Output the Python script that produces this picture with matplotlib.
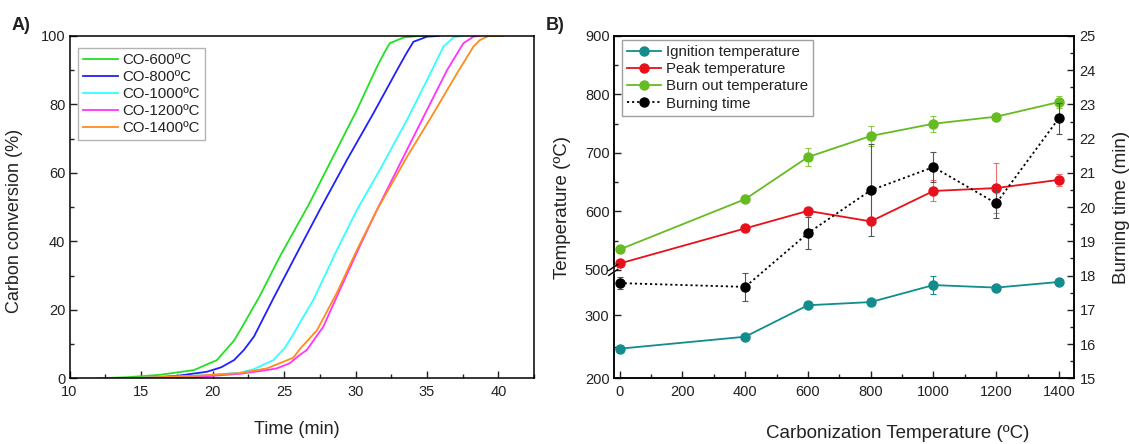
import numpy as np
import matplotlib.pyplot as plt
from matplotlib.ticker import MultipleLocator

plt.rcParams['font.family'] = ['Liberation Sans', 'DejaVu Sans']
plt.rcParams['text.color'] = '#222222'
plt.rcParams['axes.labelcolor'] = '#222222'
plt.rcParams['xtick.color'] = '#222222'
plt.rcParams['ytick.color'] = '#222222'

## Panel A: carbon conversion curves ##

time_600 = [12.0, 14.0, 16.3, 18.7, 20.3, 21.5, 22.0, 23.3, 24.7, 26.7, 28.2, 30.1, 31.5, 32.0, 32.4, 33.4, 34.5, 35.0]
conv_600 = [0, 0.3, 1.0, 2.4, 5.3, 11.0, 14.5, 24.0, 35.5, 50.5, 62.8, 78.4, 91.0, 95.0, 97.9, 99.6, 100, 100]

time_800 = [13.0, 15.2, 17.5, 19.6, 20.6, 21.5, 22.2, 22.9, 24.25, 25.9, 27.5, 29.4, 31.25, 32.9, 33.5, 34.05, 35.0, 35.8]
conv_800 = [0, 0.1, 0.7, 1.9, 3.2, 5.3, 8.3, 12.2, 23.3, 36.5, 49.2, 63.8, 77.4, 90.0, 94.5, 98.3, 99.8, 100]

time_1000 = [14.0, 17.5, 19.8, 21.9, 22.9, 24.25, 25.0, 25.65, 26.1, 27.05, 28.7, 30.1, 31.7, 33.6, 35.0, 36.15, 36.85, 37.5]
conv_1000 = [0, 0.5, 1.0, 1.6, 2.7, 5.3, 8.6, 12.8, 16.2, 22.9, 37.5, 49.2, 60.9, 75.5, 87.1, 96.9, 99.6, 100]

time_1200 = [15.0, 17.5, 18.7, 21.9, 23.8, 24.5, 25.4, 26.1, 26.6, 27.75, 28.9, 30.3, 31.5, 32.9, 35.0, 36.4, 37.55, 38.25, 38.6]
conv_1200 = [0, 0.1, 0.3, 1.3, 2.4, 2.9, 4.4, 6.8, 8.3, 15.1, 25.8, 38.6, 49.2, 60.9, 78.4, 90.0, 97.9, 99.8, 100]

time_1400 = [12.5, 15.2, 18.7, 21.9, 23.8, 25.65, 26.1, 27.3, 28.7, 30.1, 31.5, 33.6, 35.45, 37.1, 38.25, 38.7, 39.3, 40.3]
conv_1400 = [0, 0.2, 0.7, 1.5, 2.9, 6.0, 8.5, 14.0, 25.0, 37.5, 49.2, 64.7, 77.4, 89.1, 96.9, 98.8, 100, 100]

curve_labels = ['CO-600ºC', 'CO-800ºC', 'CO-1000ºC', 'CO-1200ºC', 'CO-1400ºC']
curve_colors = ['#22e022', '#2020ff', '#33ffff', '#ff33ff', '#ff8c1a']

## Panel B: characteristic temperatures ##

carb_temp = [0, 400, 600, 800, 1000, 1200, 1400]
ignition = [247, 266, 316, 321, 348, 344, 353]
ignition_err = [3, 3, 3, 3, 14, 3, 3]
peak = [511, 571, 601, 583, 635, 640, 654]
peak_err = [4, 4, 5, 5, 18, 43, 10]
burnout = [535, 621, 693, 729, 750, 762, 787]
burnout_err = [3, 3, 16, 17, 14, 4, 10]
burn_time = [17.78, 17.67, 19.24, 20.49, 21.17, 20.11, 22.6]
burn_time_err = [0.18, 0.40, 0.46, 1.34, 0.45, 0.42, 0.45]

fig = plt.figure(figsize=(11.29, 4.44), dpi=100)

# Panel A
axA = fig.add_axes([0.0616, 0.148, 0.4116, 0.771])
series = [(time_600, conv_600), (time_800, conv_800), (time_1000, conv_1000),
          (time_1200, conv_1200), (time_1400, conv_1400)]
for (t, c), lab, col in zip(series, curve_labels, curve_colors):
    axA.plot(t, c, color=col, lw=1.3, label=lab)
axA.set_xlim(10, 42.5)
axA.set_ylim(0, 100)
axA.xaxis.set_major_locator(MultipleLocator(5))
axA.xaxis.set_minor_locator(MultipleLocator(2.5))
axA.yaxis.set_major_locator(MultipleLocator(20))
axA.yaxis.set_minor_locator(MultipleLocator(10))
axA.set_xlabel('Time (min)', fontsize=13)
axA.set_ylabel('Carbon conversion (%)', fontsize=13)
axA.xaxis.set_label_coords(0.49, -0.125)
axA.yaxis.set_label_coords(-0.100, 0.46)
axA.legend(loc='upper left', bbox_to_anchor=(0.018, 0.966), borderaxespad=0,
           fontsize=10.8, frameon=True, fancybox=False, edgecolor='#a0a0a0',
           handlelength=2.3, handletextpad=0.3, labelspacing=0.2, borderpad=0.35)

# Panel B: broken temperature axis (200-372 below, 500-900 above)
k_lo, k_hi, k_gap = 1.8895, 1.755, 0.001

def fwd(y):
    y = np.asarray(y, dtype=float)
    lo = (y - 200) * k_lo
    mid = 325 + (y - 372) * k_gap
    hi = 325 + 128 * k_gap + (y - 500) * k_hi
    return np.where(y <= 372, lo, np.where(y >= 500, hi, mid))

def inv(f):
    f = np.asarray(f, dtype=float)
    top = 325 + 128 * k_gap
    lo = f / k_lo + 200
    mid = (f - 325) / k_gap + 372
    hi = (f - top) / k_hi + 500
    return np.where(f <= 325, lo, np.where(f >= top, hi, mid))

axB = fig.add_axes([0.5436, 0.148, 0.4077, 0.771])
axB.set_yscale('function', functions=(fwd, inv))
axB.set_ylim(200, 900)
axB.set_xlim(-19, 1448)

ecol = dict(fmt='none', capsize=2.5, elinewidth=0.8, capthick=0.8)
axB.errorbar(carb_temp, ignition, yerr=ignition_err, ecolor='#128c8c', **ecol)
axB.errorbar(carb_temp, peak, yerr=peak_err, ecolor='#f07070', **ecol)
axB.errorbar(carb_temp, burnout, yerr=burnout_err, ecolor='#88cc44', **ecol)
axB.plot(carb_temp, ignition, '-o', color='#128c8c', lw=1.3, ms=6.5, label='Ignition temperature')
axB.plot(carb_temp, peak, '-o', color='#e8101a', lw=1.3, ms=6.5, label='Peak temperature')
axB.plot(carb_temp, burnout, '-o', color='#66bb22', lw=1.3, ms=6.5, label='Burn out temperature')

axB.set_yticks([200, 300, 500, 600, 700, 800, 900])
axB.set_yticks([250, 550, 650, 750, 850], minor=True)
axB.xaxis.set_major_locator(MultipleLocator(200))
axB.xaxis.set_minor_locator(MultipleLocator(100))
axB.set_xlabel('Carbonization Temperature (ºC)', fontsize=13.5)
axB.set_ylabel('Temperature (ºC)', fontsize=13.5)
axB.xaxis.set_label_coords(0.617, -0.135)
axB.yaxis.set_label_coords(-0.093, 0.5)

axT = axB.twinx()
axT.errorbar(carb_temp, burn_time, yerr=burn_time_err, ecolor='#555555', **ecol)
axT.plot(carb_temp, burn_time, 'o', color='black', ls=(0, (1.2, 1.6)), lw=1.3, ms=6.5,
         label='Burning time')
axT.set_ylim(15, 25)
axT.yaxis.set_major_locator(MultipleLocator(1))
axT.yaxis.set_minor_locator(MultipleLocator(0.5))
axT.set_ylabel('Burning time (min)', fontsize=13.5)
axT.yaxis.set_label_coords(1.085, 0.5)

for ax in (axA, axB, axT):
    for s in ax.spines.values():
        s.set_linewidth(1.1)
    ax.tick_params(which='both', direction='in', width=1.0, labelsize=10.5)
    ax.tick_params(which='major', length=5)
    ax.tick_params(which='minor', length=3)
    ax.tick_params(axis='x', pad=5)
    ax.tick_params(axis='y', pad=3)
axA.tick_params(which='both', top=False, right=False)
axB.tick_params(which='both', top=False, right=False)
axT.tick_params(which='both', top=False, left=False, right=True, pad=4)

# break marks on the left spine
yb = fwd(500) / fwd(900)
px, py = 1 / 460.3, 1 / 342.3
axB.plot([0, 0], [yb - 2.5 * py, yb + 2.5 * py], color='white', lw=3,
         transform=axB.transAxes, clip_on=False, zorder=5)
for dy in (-2.5, 2.5):
    axB.plot([-5 * px, 4 * px], [yb + (dy - 3) * py, yb + (dy + 3) * py], color='black',
             lw=1.0, transform=axB.transAxes, clip_on=False, zorder=6)

h1, l1 = axB.get_legend_handles_labels()
h2, l2 = axT.get_legend_handles_labels()
axT.legend(h1 + h2, l1 + l2, loc='upper left', bbox_to_anchor=(0.0174, 0.9895),
           borderaxespad=0, fontsize=10.8, frameon=True, fancybox=False,
           edgecolor='#a0a0a0', framealpha=1, handlelength=2.3, handletextpad=0.3,
           labelspacing=0.22, borderpad=0.35)

fig.text(12 / 1129, 1 - 25 / 444, 'A)', fontsize=13, fontweight='bold', va='center')
fig.text(546 / 1129, 1 - 25 / 444, 'B)', fontsize=13, fontweight='bold', va='center')

fig.savefig('out.png', dpi=100)
